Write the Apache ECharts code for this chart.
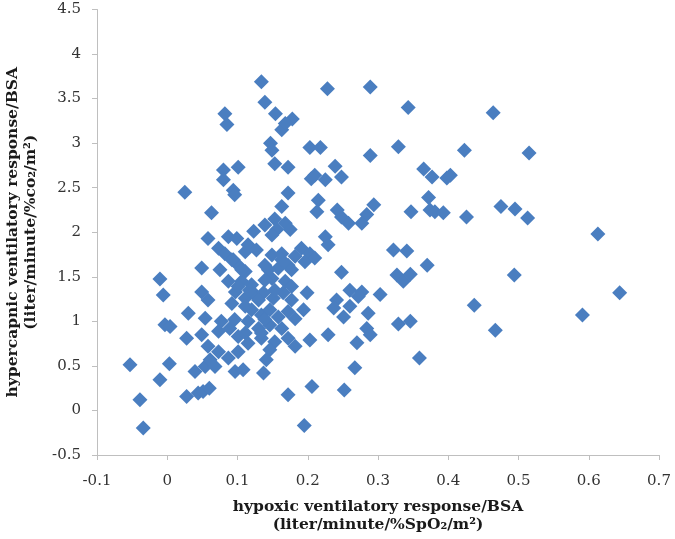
<!DOCTYPE html>
<html><head><meta charset="utf-8">
<script src="https://cdn.jsdelivr.net/npm/echarts@6/dist/echarts.min.js"></script>
<style>html,body{margin:0;padding:0;background:#fff}#c{width:675px;height:539px}</style>
</head><body><div id="c"></div>
<script>
// [hypoxic ventilatory response/BSA, hypercapnic ventilatory response/BSA]
const upperLeft = [[0.134,3.69],[0.139,3.46],[0.154,3.33],[0.082,3.33],[0.085,3.21],[0.178,3.27],[0.163,3.15],[0.168,3.22],[0.147,3.00],[0.149,2.92],[0.153,2.77],[0.172,2.73],[0.080,2.70],[0.101,2.73],[0.080,2.59],[0.094,2.47],[0.096,2.42],[0.172,2.44],[0.063,2.22],[0.163,2.29],[0.025,2.45]];
const upperMid = [[0.228,3.61],[0.289,3.63],[0.203,2.95],[0.218,2.95],[0.289,2.86],[0.329,2.96],[0.210,2.64],[0.225,2.59],[0.205,2.60],[0.239,2.74],[0.248,2.62],[0.215,2.36]];
const rightSide = [[0.343,3.40],[0.464,3.34],[0.423,2.92],[0.515,2.89],[0.365,2.71],[0.377,2.62],[0.398,2.61],[0.403,2.64],[0.347,2.23],[0.372,2.39],[0.374,2.25],[0.381,2.23],[0.393,2.22],[0.426,2.17],[0.475,2.29],[0.495,2.26],[0.513,2.16],[0.613,1.98],[0.341,1.79],[0.370,1.63],[0.327,1.52],[0.336,1.45],[0.346,1.53],[0.494,1.52],[0.437,1.18],[0.644,1.32],[0.591,1.07],[0.329,0.97],[0.346,1.00],[0.467,0.90],[0.359,0.59]];
const lowerMid = [[0.213,2.23],[0.242,2.25],[0.248,2.17],[0.258,2.10],[0.294,2.31],[0.284,2.20],[0.277,2.10],[0.322,1.80],[0.225,1.95],[0.229,1.86],[0.191,1.82],[0.203,1.76],[0.196,1.67],[0.210,1.71],[0.248,1.55],[0.260,1.35],[0.277,1.33],[0.272,1.28],[0.303,1.30],[0.241,1.24],[0.237,1.15],[0.260,1.17],[0.251,1.05],[0.286,1.09],[0.229,0.85],[0.284,0.92],[0.289,0.85],[0.270,0.76],[0.199,1.32],[0.194,1.13],[0.203,0.79],[0.267,0.48],[0.206,0.27],[0.252,0.23],[0.195,-0.17]];
const cluster = [[0.139,2.08],[0.153,2.15],[0.168,2.10],[0.175,2.03],[0.156,2.03],[0.123,2.01],[0.058,1.93],[0.087,1.95],[0.099,1.93],[0.073,1.82],[0.082,1.76],[0.115,1.86],[0.127,1.80],[0.094,1.69],[0.101,1.63],[0.149,1.745],[0.163,1.76],[0.139,1.63],[0.158,1.595],[0.172,1.63],[0.149,1.48],[0.168,1.45],[0.182,1.73],[0.049,1.60],[0.075,1.58],[0.111,1.56],[0.106,1.45],[0.120,1.41],[0.087,1.45],[0.097,1.33],[0.049,1.33],[0.058,1.24],[0.111,1.26],[0.125,1.30],[0.137,1.32],[0.151,1.26],[0.165,1.32],[0.177,1.24],[0.120,1.13],[0.134,1.07],[0.146,1.13],[0.158,1.05],[0.172,1.11],[0.182,1.03],[0.054,1.035],[0.077,1.00],[0.089,0.92],[0.073,0.89],[0.115,1.00],[0.130,0.92],[0.146,0.96],[0.163,0.92],[0.101,0.83],[0.115,0.755],[0.134,0.81],[0.153,0.77],[0.172,0.81],[0.049,0.85],[0.058,0.72],[0.073,0.66],[0.087,0.59],[0.101,0.66],[0.146,0.68],[0.141,0.57],[0.182,0.72]];
const clusterCore = [[0.149,1.97],[0.092,1.69],[0.111,1.78],[0.106,1.58],[0.101,1.39],[0.117,1.35],[0.163,1.69],[0.144,1.58],[0.177,1.58],[0.139,1.46],[0.153,1.35],[0.177,1.39],[0.092,1.20],[0.111,1.17],[0.130,1.24],[0.096,1.02],[0.139,1.02],[0.111,0.87],[0.134,0.87]];
const lowerLeft = [[-0.0104,1.476],[-0.0057,1.297],[0.030,1.091],[-0.0033,0.961],[0.004,0.942],[0.0276,0.811],[-0.053,0.512],[0.003,0.523],[-0.0104,0.344],[0.0395,0.438],[0.054,0.494],[0.061,0.568],[0.068,0.494],[-0.0389,0.12],[-0.0342,-0.198],[0.0276,0.157],[0.044,0.195],[0.051,0.213],[0.0599,0.25],[0.0965,0.438],[0.108,0.456],[0.137,0.419],[0.172,0.176]];

const xTicks = [-0.1, 0, 0.1, 0.2, 0.3, 0.4, 0.5, 0.6, 0.7];
const yTicks = [-0.5, 0, 0.5, 1, 1.5, 2, 2.5, 3, 3.5, 4, 4.5];
const xTitle = 'hypoxic ventilatory response/BSA\n(liter/minute/%SpO\u2082/m\u00b2)';
const yTitle = 'hypercapnic ventilatory response/BSA\n(liter/minute/%co\u2082/m\u00b2)';

const points = [].concat(upperLeft, upperMid, rightSide, lowerMid, cluster, clusterCore, lowerLeft);
const serif = '"DejaVu Serif", "Liberation Serif", serif';
const fmt = v => String(Math.round(v * 10) / 10);

const chart = echarts.init(document.getElementById('c'), null, {renderer: 'canvas'});
chart.setOption({
  animation: false,
  backgroundColor: '#ffffff',
  grid: {left: 97, right: 16, top: 9.5, bottom: 84, containLabel: false, outerBoundsMode: 'none'},
  xAxis: {
    type: 'value',
    min: xTicks[0], max: xTicks[xTicks.length - 1], interval: xTicks[1] - xTicks[0],
    name: xTitle, nameLocation: 'middle', nameGap: 43,
    nameTextStyle: {fontFamily: serif, fontWeight: 'bold', fontSize: 15.5, color: '#1a1a1a', lineHeight: 18},
    axisLine: {onZero: false, lineStyle: {color: '#bfbfbf', width: 1}},
    axisTick: {show: true, inside: false, length: 5, lineStyle: {color: '#bfbfbf'}},
    axisLabel: {formatter: fmt, fontFamily: serif, fontSize: 15, color: '#333', margin: 19},
    splitLine: {show: false}
  },
  yAxis: {
    type: 'value',
    min: yTicks[0], max: yTicks[yTicks.length - 1], interval: yTicks[1] - yTicks[0],
    name: yTitle, nameLocation: 'middle', nameGap: 57, nameRotate: 90,
    nameTextStyle: {fontFamily: serif, fontWeight: 'bold', fontSize: 15.5, color: '#1a1a1a', lineHeight: 18},
    axisLine: {onZero: false, lineStyle: {color: '#bfbfbf', width: 1}},
    axisTick: {show: true, inside: false, length: 5, lineStyle: {color: '#bfbfbf'}},
    axisLabel: {formatter: fmt, fontFamily: serif, fontSize: 15, color: '#333', margin: 16},
    splitLine: {show: false}
  },
  series: [{
    type: 'scatter',
    symbol: 'diamond',
    symbolSize: 15,
    itemStyle: {color: '#4a7ec0', opacity: 1},
    data: points
  }]
});
</script></body></html>
